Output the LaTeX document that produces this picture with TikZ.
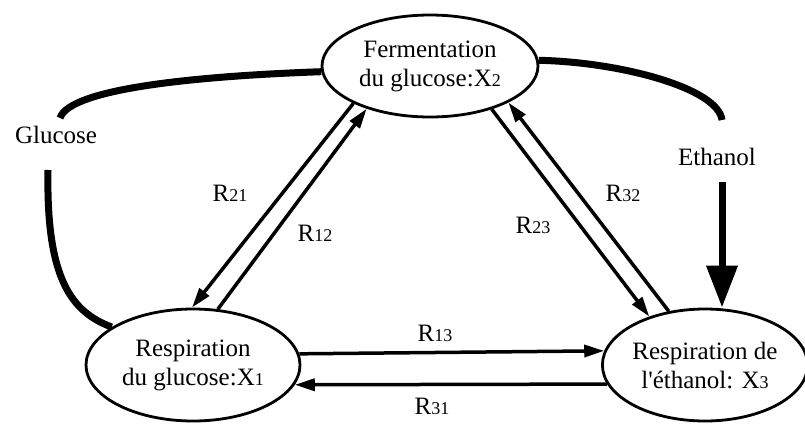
\documentclass[tikz,border=0pt]{standalone}
\usepackage{fontspec}
\setmainfont{Liberation Serif}[Ligatures=TeXOff]
\usetikzlibrary{arrows.meta,shapes.geometric}
\newcommand\dg[1]{{\fontsize{18}{18}\selectfont #1}}
\begin{document}
\begin{tikzpicture}[x=1pt,y=-1pt,
  state/.style={ellipse,draw,line width=2.8pt,inner sep=0pt,align=center,
    font=\fontsize{25}{29}\selectfont},
  lbl/.style={font=\fontsize{25}{29}\selectfont,inner sep=1pt},
  rarr/.style={line width=3.5pt,-{Triangle[length=20pt,width=12pt]}},
  feed/.style={line width=7pt},
  feedarr/.style={line width=7pt,-{Triangle[length=42pt,width=30pt]}}]
\fill[white] (0,0) rectangle (805,423);
\useasboundingbox (0,0) rectangle (805,423);

\node[state,minimum width=216pt,minimum height=102pt] (X2) at (430,66)
  {Fermentation\\du glucose:X\dg{2}};
\node[state,minimum width=214pt,minimum height=112pt] (X1) at (193,365)
  {Respiration\\du glucose:X\dg{1}};
\node[state,minimum width=196pt,minimum height=112pt] (X3) at (705,365)
  {Respiration de\\l'éthanol: X\dg{3}};

\node[lbl] (G) at (56,135) {Glucose};
\node[lbl] (E) at (717,157) {Ethanol};
\node[lbl] (L21) at (230,193) {R\dg{21}};
\node[lbl] (L12) at (315,233) {R\dg{12}};
\node[lbl] (L23) at (533,225) {R\dg{23}};
\node[lbl] (L32) at (623,193) {R\dg{32}};
\node[lbl] (L13) at (435,333) {R\dg{13}};
\node[lbl] (L31) at (432,406) {R\dg{31}};

\coordinate (g1) at (60,118);
\coordinate (g2) at (48,170);
\coordinate (e1) at (722,120);
\coordinate (e2) at (722,182);

% exchange arrows
\draw[rarr] (X2.206) -- (X1.91);
\draw[rarr] (X1.66) -- (X2.214);
\draw[rarr] (X2.325.5) -- (X3.139);
\draw[rarr] (X3.124.6) -- (X2.335);
\draw[rarr] (X1.6.55) -- (X3.172.85);
\draw[rarr] (X3.191) -- (X1.349.94);

% glucose feed
\draw[feed] (X2.183) .. controls (200,76) and (70,88) .. (g1);
\draw[feed] (g2) .. controls (46,280) and (72,312) .. (X1.155);
% ethanol feed
\draw[feed] (X2.3) .. controls (620,62) and (718,88) .. (e1);
\draw[feedarr] (e2) -- (e2 |- X3.north);
\end{tikzpicture}
\end{document}
